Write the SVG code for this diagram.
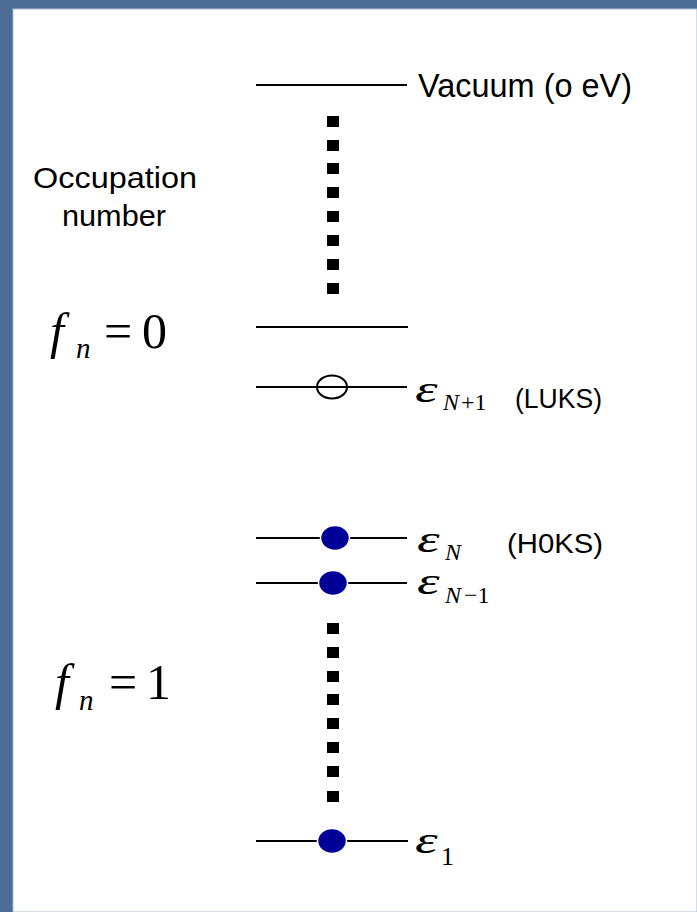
<svg xmlns="http://www.w3.org/2000/svg" width="697" height="912" viewBox="0 0 697 912">
<defs>
<style>
.lvl{stroke:#000;stroke-width:2;fill:none}
.dot{fill:#000}
.occ{fill:#000099;stroke:#fff;stroke-width:1.5}
.emp{fill:none;stroke:#000;stroke-width:2}
.sans{font-family:"Liberation Sans",Arial,sans-serif;fill:#000}
.math{font-family:"Liberation Serif","Times New Roman",serif;fill:#000}
.it{font-style:italic}
.eps{font-family:"Liberation Serif","Times New Roman",serif;font-style:italic;font-size:37px;fill:#000}
</style>
</defs>
<rect x="0" y="0" width="697" height="912" fill="#4d6d96"/>
<rect x="13" y="9" width="684" height="903" fill="#ffffff" stroke="#a9bdd4" stroke-width="1"/>

<g id="connectors">
<g id="dots-upper">
<rect class="dot" x="327" y="116" width="12" height="11"/>
<rect class="dot" x="327" y="140" width="12" height="11"/>
<rect class="dot" x="327" y="163" width="12" height="11"/>
<rect class="dot" x="327" y="187" width="12" height="11"/>
<rect class="dot" x="327" y="211" width="12" height="11"/>
<rect class="dot" x="327" y="235" width="12" height="11"/>
<rect class="dot" x="327" y="259" width="12" height="11"/>
<rect class="dot" x="327" y="283" width="12" height="11"/>
</g>
<g id="dots-lower">
<rect class="dot" x="327" y="623" width="12" height="11"/>
<rect class="dot" x="327" y="647" width="12" height="11"/>
<rect class="dot" x="327" y="671" width="12" height="11"/>
<rect class="dot" x="327" y="694" width="12" height="11"/>
<rect class="dot" x="327" y="718" width="12" height="11"/>
<rect class="dot" x="327" y="742" width="12" height="11"/>
<rect class="dot" x="327" y="766" width="12" height="11"/>
<rect class="dot" x="327" y="791" width="12" height="11"/>
</g>
</g>

<g id="vacuum">
<line class="lvl" x1="256" y1="85" x2="407" y2="85"/>
<text class="sans" x="418" y="97" font-size="33" textLength="214" lengthAdjust="spacingAndGlyphs">Vacuum (o eV)</text>
</g>

<g id="occupation-label">
<text class="sans" x="33" y="188" font-size="30" textLength="164" lengthAdjust="spacingAndGlyphs">Occupation</text>
<text class="sans" x="62" y="226" font-size="30" textLength="104" lengthAdjust="spacingAndGlyphs">number</text>
</g>

<g id="fn0">
<text class="math" y="348" font-size="50"><tspan class="it" x="50">f</tspan><tspan class="it" x="76" dy="10" font-size="29">n</tspan><tspan x="104" dy="-10">=</tspan><tspan x="142">0</tspan></text>
</g>

<g id="level-unocc">
<line class="lvl" x1="256" y1="327" x2="408" y2="327"/>
</g>

<g id="level-LUKS">
<line class="lvl" x1="256" y1="387" x2="407" y2="387"/>
<ellipse class="emp" cx="332" cy="387" rx="15" ry="11.5"/>
<text class="eps" transform="translate(415,402) scale(1.55,1)">ε</text>
<text class="math" y="410" font-size="24"><tspan class="it" x="443">N</tspan><tspan x="461">+1</tspan></text>
<text class="sans" x="515" y="408" font-size="27" textLength="87" lengthAdjust="spacingAndGlyphs">(LUKS)</text>
</g>

<g id="level-HOKS">
<line class="lvl" x1="256" y1="538" x2="407" y2="538"/>
<ellipse class="occ" cx="335" cy="538" rx="14.5" ry="12.5"/>
<text class="eps" transform="translate(417,552) scale(1.55,1)">ε</text>
<text class="math it" x="445" y="560" font-size="24">N</text>
<text class="sans" x="507" y="553" font-size="28" textLength="96" lengthAdjust="spacingAndGlyphs">(H0KS)</text>
</g>

<g id="level-N-1">
<line class="lvl" x1="256" y1="583" x2="407" y2="583"/>
<ellipse class="occ" cx="333" cy="583" rx="14.5" ry="12.5"/>
<text class="eps" transform="translate(417,594) scale(1.55,1)">ε</text>
<text class="math" y="603" font-size="24"><tspan class="it" x="445">N</tspan><tspan x="464">−1</tspan></text>
</g>

<g id="fn1">
<text class="math" y="699" font-size="50"><tspan class="it" x="55">f</tspan><tspan class="it" x="79" dy="11" font-size="29">n</tspan><tspan x="109" dy="-11">=</tspan><tspan x="146">1</tspan></text>
</g>

<g id="level-1">
<line class="lvl" x1="256" y1="841" x2="408" y2="841"/>
<ellipse class="occ" cx="332" cy="841" rx="14.5" ry="12.5"/>
<text class="eps" transform="translate(415,853) scale(1.55,1)">ε</text>
<text class="math" x="441" y="865" font-size="26">1</text>
</g>
</svg>
